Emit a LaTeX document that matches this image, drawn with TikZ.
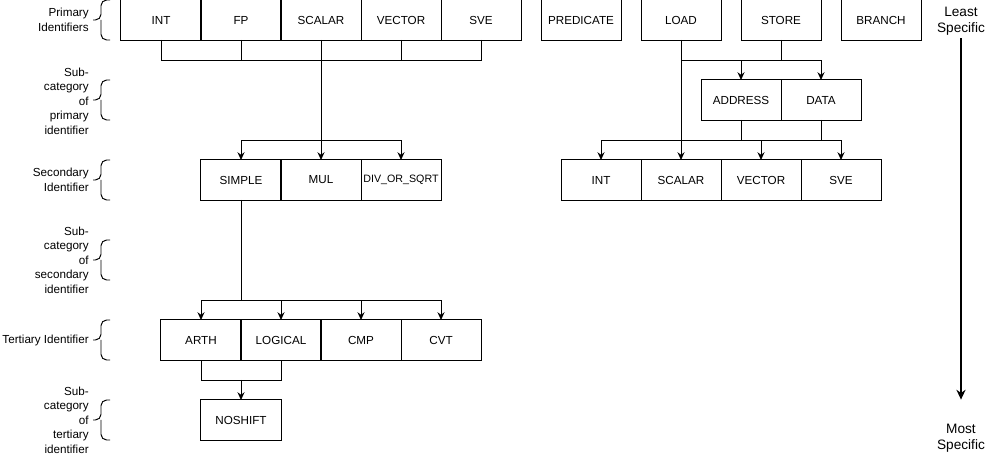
\documentclass[tikz,border=0pt]{standalone}
\usepackage{fontspec}
\setmainfont{Liberation Sans}
\usetikzlibrary{arrows.meta, calc, positioning}
\tikzset{idbox/.style={draw, rectangle, minimum width=2cm, minimum height=1cm, inner sep=1pt, outer sep=0pt, line width=0.7pt, font=\fontsize{8.3}{10}\selectfont}}
\tikzset{lvllabel/.style={anchor=east, align=right, inner sep=0pt, font=\fontsize{8.3}{10.3}\selectfont}}
\tikzset{endlabel/.style={align=center, inner sep=2pt, font=\fontsize{9.7}{11.5}\selectfont}}
\tikzset{link/.style={line width=0.7pt}}
\tikzset{linkarrow/.style={link, -{Stealth[length=5.5pt, width=5pt]}}}
\tikzset{bigarrow/.style={line width=1.4pt, -{Stealth[length=7pt, width=6.5pt]}}}
\tikzset{levelbrace/.pic={
    \draw [link, rounded corners=4pt] (9,-20) -- (0,-20) -- (0,0) -- (-8,0);
    \draw [link, rounded corners=4pt] (9,20) -- (0,20) -- (0,0);
}}

\begin{document}
\begin{tikzpicture}[x=0.025cm, y=-0.025cm]
        \useasboundingbox (0,0) rectangle (1002,457);

        % level labels
        \node [lvllabel] (LvPrim)   at (89,20)  {Primary\\Identifiers};
        \node [lvllabel] (LvSubPrim) at (89,101) {Sub-\\category\\of\\primary\\identifier};
        \node [lvllabel] (LvSec)    at (89,180) {Secondary\\Identifier};
        \node [lvllabel] (LvSubSec) at (89,260) {Sub-\\category\\of\\secondary\\identifier};
        \node [lvllabel] (LvTer)    at (89,340) {Tertiary Identifier};
        \node [lvllabel] (LvSubTer) at (89,420) {Sub-\\category\\of\\tertiary\\identifier};

        \pic at (101,20)  {levelbrace};
        \pic at (101,100) {levelbrace};
        \pic at (101,180) {levelbrace};
        \pic at (101,260) {levelbrace};
        \pic at (101,340) {levelbrace};
        \pic at (101,420) {levelbrace};

        % primary identifiers
        \node [idbox] (PInt)    at (161,20) {INT};
        \node [idbox] (PFp)     at (241,20) {FP};
        \node [idbox] (PScalar) at (321,20) {SCALAR};
        \node [idbox] (PVector) at (401,20) {VECTOR};
        \node [idbox] (PSve)    at (481,20) {SVE};
        \node [idbox] (PPred)   at (581,20) {PREDICATE};
        \node [idbox] (PLoad)   at (681,20) {LOAD};
        \node [idbox] (PStore)  at (781,20) {STORE};
        \node [idbox] (PBranch) at (881,20) {BRANCH};

        % sub-category of LOAD/STORE
        \node [idbox] (MAddr) at (741,100) {ADDRESS};
        \node [idbox] (MData) at (821,100) {DATA};

        % secondary identifiers
        \node [idbox] (SSimple) at (241,180) {SIMPLE};
        \node [idbox] (SMul)    at (321,180) {MUL};
        \node [idbox, font=\fontsize{7.6}{9}\selectfont] (SDiv) at (401,180) {DIV\_OR\_SQRT};

        \node [idbox] (LInt)    at (601,180) {INT};
        \node [idbox] (LScalar) at (681,180) {SCALAR};
        \node [idbox] (LVector) at (761,180) {VECTOR};
        \node [idbox] (LSve)    at (841,180) {SVE};

        % tertiary identifiers
        \node [idbox] (TArth)    at (201,340) {ARTH};
        \node [idbox] (TLogical) at (281,340) {LOGICAL};
        \node [idbox] (TCmp)     at (361,340) {CMP};
        \node [idbox] (TCvt)     at (441,340) {CVT};

        \node [idbox] (QNoshift) at (241,420) {NOSHIFT};

        % junctions
        \coordinate (J1) at (321,60);
        \coordinate (J2) at (321,140);
        \coordinate (J3) at (241,300);
        \coordinate (J4) at (241,380);
        \coordinate (J5) at (781,60);
        \coordinate (J6) at (681,60);
        \coordinate (J7) at (741,140);

        \draw [link] (PInt) |- (J1);
        \draw [link] (PFp) |- (J1);
        \draw [link] (PVector) |- (J1);
        \draw [link] (PSve) |- (J1);
        \draw [link] (PScalar) -- (J2);
        \draw [linkarrow] (J2) -| (SSimple);
        \draw [linkarrow] (J2) -- (SMul);
        \draw [linkarrow] (J2) -| (SDiv);

        \draw [link] (SSimple) -- (J3);
        \draw [linkarrow] (J3) -| (TArth);
        \draw [linkarrow] (J3) -| (TLogical);
        \draw [linkarrow] (J3) -| (TCmp);
        \draw [linkarrow] (J3) -| (TCvt);

        \draw [link] (TArth) |- (J4);
        \draw [link] (TLogical) |- (J4);
        \draw [linkarrow] (J4) -- (QNoshift);

        \draw [linkarrow] (PLoad) -- (LScalar);
        \draw [link] (PStore) -- (J5);
        \draw [link] (J6) -- (J5);
        \draw [linkarrow] (J5) -| (MAddr);
        \draw [linkarrow] (J5) -| (MData);

        \draw [link] (MAddr) -- (J7);
        \draw [link] (MData) |- (J7);
        \draw [linkarrow] (J7) -| (LInt);
        \draw [linkarrow] (J7) -| (LVector);
        \draw [linkarrow] (J7) -| (LSve);

        % specificity scale
        \node [endlabel] (Least) at (961,21)  {Least\\Specific};
        \node [endlabel] (Most)  at (961,438) {Most\\Specific};
        \draw [bigarrow, shorten >=15pt] (Least) -- (Most);
    \end{tikzpicture}
\end{document}
